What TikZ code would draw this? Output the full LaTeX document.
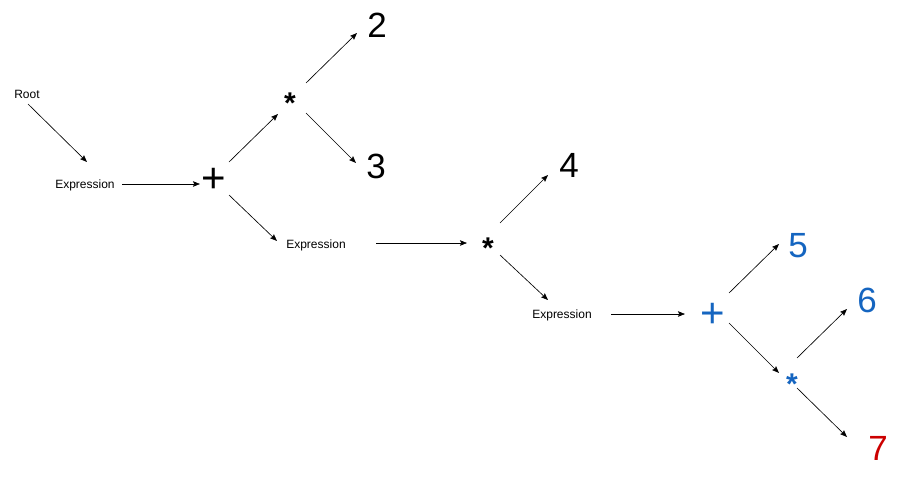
\documentclass[tikz,border=0pt]{standalone}
\usepackage{fontspec}
\setmainfont{Liberation Sans}
\usetikzlibrary{arrows.meta}
\definecolor{opblue}{RGB}{21,101,192}
\definecolor{numred}{RGB}{204,0,0}
\tikzset{
  lbl/.style={inner sep=0pt, anchor=base, font=\fontsize{12}{14}\selectfont},
  num/.style={inner sep=0pt, anchor=base, font=\fontsize{35}{40}\selectfont},
  plusop/.style={inner sep=0pt, anchor=base, font=\fontsize{42}{46}\selectfont},
  starop/.style={inner sep=0pt, anchor=base, font=\fontsize{30}{34}\selectfont\bfseries},
  arr/.style={line width=0.65pt, -{Stealth[length=7pt,width=5.5pt,inset=1.2pt]}}
}
\begin{document}
\begin{tikzpicture}[x=1pt,y=-1pt]
\useasboundingbox (0,0) rectangle (913,477);
% nodes (positions are baselines, in pixels)
\node[lbl] (root) at (27,98) {Root};
\node[lbl] (ex1) at (85,188) {Expression};
\node[plusop] (p1) at (214,192) {+};
\node[starop] (s1) at (290,113) {*};
\node[num] (n2) at (377,37) {2};
\node[num] (n3) at (376,178) {3};
\node[lbl] (ex2) at (316,248) {Expression};
\node[starop] (s2) at (488,258) {*};
\node[num] (n4) at (569,177) {4};
\node[lbl] (ex3) at (562,318) {Expression};
\node[plusop, text=opblue] (p2) at (713,327) {+};
\node[num, text=opblue] (n5) at (798,257) {5};
\node[starop, text=opblue] (s3) at (792,394) {*};
\node[num, text=opblue] (n6) at (867,312) {6};
\node[num, text=numred] (n7) at (878,460) {7};
% connectors
\draw[arr] ([shift={(1,6)}]root.base) -- ([shift={(2,-26)}]ex1.base);
\draw[arr] ([shift={(37,-4)}]ex1.base) -- ([shift={(-14,-8)}]p1.base);
\draw[arr] ([shift={(15,-30)}]p1.base) -- ([shift={(-12,1)}]s1.base);
\draw[arr] ([shift={(15,3)}]p1.base) -- ([shift={(-39,-7)}]ex2.base);
\draw[arr] ([shift={(16,-30)}]s1.base) -- ([shift={(-20,-4)}]n2.base);
\draw[arr] ([shift={(16,0)}]s1.base) -- ([shift={(-20,-15)}]n3.base);
\draw[arr] ([shift={(60,-5)}]ex2.base) -- ([shift={(-21,-15)}]s2.base);
\draw[arr] ([shift={(12,-35)}]s2.base) -- ([shift={(-21,-2)}]n4.base);
\draw[arr] ([shift={(12,-3)}]s2.base) -- ([shift={(-14,-18)}]ex3.base);
\draw[arr] ([shift={(49,-4)}]ex3.base) -- ([shift={(-28,-13)}]p2.base);
\draw[arr] ([shift={(16,-34)}]p2.base) -- ([shift={(-19,-13)}]n5.base);
\draw[arr] ([shift={(16,-4)}]p2.base) -- ([shift={(-13,-21)}]s3.base);
\draw[arr] ([shift={(5,-36)}]s3.base) -- ([shift={(-20,-3)}]n6.base);
\draw[arr] ([shift={(5,-6)}]s3.base) -- ([shift={(-31,-23)}]n7.base);
\end{tikzpicture}
\end{document}
